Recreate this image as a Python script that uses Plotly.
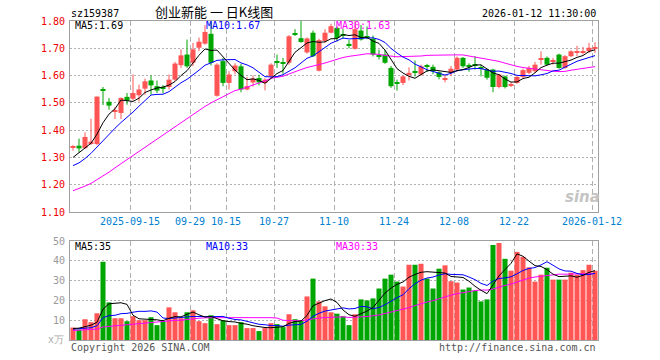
import numpy as np
import pandas as pd
import plotly.graph_objects as go

# ---------------- data ----------------
open_ = [1.335, 1.343, 1.334, 1.352, 1.349, 1.551, 1.504, 1.470, 1.463, 1.522,
         1.515, 1.528, 1.552, 1.582, 1.561, 1.556, 1.558, 1.585, 1.638, 1.677,
         1.647, 1.702, 1.717, 1.753, 1.526, 1.653, 1.573, 1.616, 1.634, 1.549,
         1.575, 1.591, 1.573, 1.597, 1.651, 1.649, 1.647, 1.755, 1.737, 1.685,
         1.757, 1.618, 1.727, 1.757, 1.775, 1.750, 1.716, 1.698, 1.765, 1.744,
         1.735, 1.675, 1.677, 1.628, 1.575, 1.573, 1.604, 1.617, 1.604, 1.636,
         1.632, 1.612, 1.585, 1.610, 1.622, 1.665, 1.639, 1.640, 1.630, 1.622,
         1.622, 1.558, 1.597, 1.564, 1.573, 1.595, 1.610, 1.616, 1.658, 1.665,
         1.651, 1.677, 1.628, 1.671, 1.685, 1.686, 1.689, 1.700]
high = [1.345, 1.369, 1.392, 1.442, 1.523, 1.558, 1.518, 1.485, 1.520, 1.536,
        1.604, 1.567, 1.589, 1.601, 1.582, 1.565, 1.604, 1.650, 1.696, 1.732,
        1.720, 1.739, 1.785, 1.795, 1.645, 1.665, 1.616, 1.645, 1.643, 1.595,
        1.600, 1.603, 1.590, 1.645, 1.677, 1.665, 1.748, 1.770, 1.800, 1.740,
        1.765, 1.735, 1.770, 1.790, 1.780, 1.770, 1.730, 1.800, 1.785, 1.780,
        1.747, 1.695, 1.695, 1.635, 1.585, 1.600, 1.630, 1.655, 1.640, 1.643,
        1.640, 1.615, 1.604, 1.635, 1.670, 1.668, 1.645, 1.671, 1.640, 1.625,
        1.625, 1.606, 1.600, 1.576, 1.600, 1.625, 1.635, 1.650, 1.689, 1.670,
        1.665, 1.680, 1.675, 1.693, 1.709, 1.705, 1.720, 1.722]
low = [1.325, 1.318, 1.331, 1.346, 1.345, 1.492, 1.475, 1.441, 1.441, 1.493,
       1.509, 1.505, 1.530, 1.530, 1.536, 1.535, 1.549, 1.580, 1.628, 1.628,
       1.635, 1.689, 1.713, 1.637, 1.523, 1.561, 1.549, 1.605, 1.539, 1.546,
       1.560, 1.564, 1.546, 1.590, 1.628, 1.607, 1.640, 1.745, 1.720, 1.680,
       1.668, 1.615, 1.720, 1.755, 1.725, 1.735, 1.700, 1.695, 1.728, 1.733,
       1.670, 1.659, 1.643, 1.555, 1.545, 1.565, 1.582, 1.597, 1.600, 1.613,
       1.605, 1.586, 1.575, 1.598, 1.615, 1.628, 1.614, 1.622, 1.597, 1.585,
       1.539, 1.553, 1.553, 1.558, 1.570, 1.590, 1.605, 1.610, 1.640, 1.637,
       1.640, 1.625, 1.625, 1.668, 1.671, 1.678, 1.683, 1.683]
close = [1.338, 1.333, 1.375, 1.358, 1.523, 1.547, 1.490, 1.474, 1.518, 1.508,
         1.536, 1.549, 1.579, 1.564, 1.545, 1.552, 1.585, 1.644, 1.674, 1.634,
         1.696, 1.724, 1.760, 1.647, 1.640, 1.573, 1.604, 1.637, 1.549, 1.561,
         1.589, 1.575, 1.585, 1.640, 1.648, 1.645, 1.744, 1.750, 1.723, 1.736,
         1.671, 1.730, 1.757, 1.781, 1.738, 1.746, 1.712, 1.770, 1.732, 1.740,
         1.677, 1.671, 1.647, 1.561, 1.571, 1.597, 1.610, 1.612, 1.634, 1.632,
         1.616, 1.595, 1.590, 1.625, 1.665, 1.634, 1.635, 1.636, 1.626, 1.592,
         1.558, 1.604, 1.558, 1.569, 1.595, 1.620, 1.628, 1.640, 1.663, 1.640,
         1.656, 1.628, 1.671, 1.689, 1.689, 1.690, 1.702, 1.703]
volume = [6.3, 5.3, 10.5, 9.0, 13.5, 39.5, 19.0, 11.0, 11.0, 9.5,
          12.0, 10.0, 10.0, 11.5, 7.5, 9.5, 16.5, 14.0, 11.0, 14.0,
          15.0, 9.5, 8.5, 12.5, 8.0, 10.0, 7.5, 7.5, 9.0, 6.0,
          6.0, 4.5, 6.0, 8.5, 8.0, 6.5, 13.0, 10.5, 10.0, 22.0,
          31.0, 19.5, 17.0, 14.0, 13.3, 12.0, 7.5, 13.0, 20.5, 20.0,
          21.0, 26.0, 31.0, 33.0, 29.5, 27.0, 38.0, 38.0, 38.5, 31.0,
          26.0, 36.0, 37.7, 29.7, 29.0, 25.5, 26.5, 25.0, 19.5, 20.5,
          48.0, 49.0, 41.0, 35.0, 44.5, 42.0, 36.7, 29.5, 33.0, 36.5,
          30.5, 30.5, 30.5, 34.0, 33.0, 35.3, 38.0, 35.0]

# moving-average values before enough history exists inside the window
ma5_head = [1.300, 1.318, 1.335, 1.352]
ma10_head = [1.270, 1.280, 1.296, 1.315, 1.338, 1.362, 1.385, 1.407, 1.428]
ma30_head = [1.178, 1.186, 1.195, 1.205, 1.218, 1.232, 1.246, 1.262, 1.277, 1.292,
             1.308, 1.324, 1.340, 1.355, 1.370, 1.385, 1.399, 1.413, 1.428, 1.443,
             1.457, 1.472, 1.487, 1.500, 1.512, 1.523, 1.535, 1.545, 1.550]
vma5_head = [5.8, 6.0, 6.7, 7.5]
vma10_head = [5.5, 5.7, 5.8, 6.2, 7.2, 11.3, 12.3, 12.5, 13.3]
vma30_head = [4.8, 4.9, 5.0, 5.1, 5.5, 6.6, 6.9, 7.2, 7.5, 7.8,
              8.0, 8.3, 8.6, 9.0, 9.3, 9.5, 9.8, 9.9, 10.0, 10.4,
              10.8, 11.0, 11.2, 11.3, 11.3, 11.3, 11.3, 11.3, 11.3]

holidays = ["2025-10-01", "2025-10-02", "2025-10-03", "2025-10-06", "2025-10-07",
            "2025-10-08", "2026-01-01", "2026-01-02"]
tick_dates = ["2025-09-15", "2025-09-29", "2025-10-15", "2025-10-27", "2025-11-10",
              "2025-11-24", "2025-12-08", "2025-12-22", "2026-01-12"]
tick_labels = ["2025-09-15", "09-29", "10-15", "10-27", "11-10",
               "11-24", "12-08", "12-22", "2026-01-12"]
price_ticks = [1.10, 1.20, 1.30, 1.40, 1.50, 1.60, 1.70, 1.80]
vol_ticks = [10, 20, 30, 40, 50]

# ---------------- derived ----------------
dates = [d.strftime("%Y-%m-%d") for d in pd.bdate_range("2025-09-01", "2026-01-12")
         if d.strftime("%Y-%m-%d") not in holidays]
n = len(dates)
idx = np.arange(n)
o = np.array(open_); c = np.array(close); h = np.array(high); l = np.array(low)
v = np.array(volume)


def ma(series, w, head):
    m = pd.Series(series).rolling(w).mean().values
    m[:len(head)] = head
    return m


ma5 = ma(c, 5, ma5_head); ma10 = ma(c, 10, ma10_head); ma30 = ma(c, 30, ma30_head)
vma5 = ma(v, 5, vma5_head); vma10 = ma(v, 10, vma10_head); vma30 = ma(v, 30, vma30_head)

RED = "#FF5555"
GREEN = "#00A600"
up = c >= o
bar_colors = [RED if u else GREEN for u in up]
body_base = np.minimum(o, c)
body_h = np.maximum(np.abs(c - o), 0.0038)
tickpos = [dates.index(d) - 0.5 for d in tick_dates]

fig = go.Figure()
# wicks
for flag, col in ((True, RED), (False, GREEN)):
    xs, ys = [], []
    for i in idx[up == flag]:
        xs += [i, i, None]
        ys += [l[i], h[i], None]
    fig.add_trace(go.Scatter(x=xs, y=ys, mode="lines", line=dict(color=col, width=1),
                             xaxis="x", yaxis="y", hoverinfo="skip"))
# bodies
fig.add_trace(go.Bar(x=idx, y=body_h, base=body_base, width=0.84,
                     marker=dict(color=bar_colors, line=dict(width=0)),
                     xaxis="x", yaxis="y", hoverinfo="skip"))
# price MAs
for m, col in ((ma30, "#FF00FF"), (ma10, "#0000FF"), (ma5, "#000000")):
    fig.add_trace(go.Scatter(x=idx, y=m, mode="lines", line=dict(color=col, width=1),
                             xaxis="x", yaxis="y", hoverinfo="skip"))
# volume
fig.add_trace(go.Bar(x=idx, y=v, width=0.84,
                     marker=dict(color=bar_colors, line=dict(width=0)),
                     xaxis="x2", yaxis="y2", hoverinfo="skip"))
for m, col in ((vma30, "#FF00FF"), (vma10, "#0000FF"), (vma5, "#000000")):
    fig.add_trace(go.Scatter(x=idx, y=m, mode="lines", line=dict(color=col, width=1),
                             xaxis="x2", yaxis="y2", hoverinfo="skip"))

L, R, T, B, W, H = 70, 62, 21, 20, 660, 360
PW, PH = W - L - R, H - T - B


def px(x):
    return (x - L) / PW


def py(y):
    return (H - B - y) / PH


MONO = "DejaVu Sans Mono"
CJK = "Noto Sans CJK SC"
ann = []


def text(t, x, y, anchor="left", color="#000", size=10, family=MONO, **kw):
    ann.append(dict(text=t, x=px(x), y=py(y), xref="paper", yref="paper",
                    xanchor=anchor, yanchor="middle", showarrow=False,
                    font=dict(family=family, size=size, color=color, **kw)))


text("sz159387", 69, 13)
text("创业新能 一 日K线图", 214, 12, anchor="center", size=13, family=CJK)
text("2026-01-12 11:30:00", 598, 13, anchor="right")
text("MA5:%.2f" % ma5[-1], 73, 26)
text("MA10:%.2f" % ma10[-1], 204, 26, color="#0000FF")
text("MA30:%.2f" % ma30[-1], 334, 26, color="#FF00FF")
text("MA5:%d" % int(vma5[-1]), 73, 246)
text("MA10:%d" % int(vma10[-1]), 204, 246, color="#0000FF")
text("MA30:%d" % int(vma30[-1]), 334, 246, color="#FF00FF")
text("Copyright 2026 SINA.COM", 69, 347, color="#555555")
text("http://finance.sina.com.cn", 598, 347, anchor="right", color="#555555")
text("x万", 66, 339, anchor="right", color="#aaaaaa")
text("sina", 582, 197, anchor="center", color="#c4c4c4", size=15,
     family="DejaVu Sans", style="italic", weight="bold")

GRID = "#b0b0b0"
LINE = "#a0a0a0"
xcommon = dict(range=[-0.5, n - 0.5], tickmode="array", tickvals=tickpos, ticktext=tick_labels,
               showgrid=True, gridcolor=GRID, griddash="5px,3px", gridwidth=1,
               showline=True, mirror=True, linecolor=LINE, linewidth=1,
               zeroline=False, ticks="", fixedrange=True)
fig.update_layout(
    width=W, height=H, margin=dict(l=L, r=R, t=T, b=B),
    paper_bgcolor="white", plot_bgcolor="white", showlegend=False, hovermode=False,
    barmode="overlay",
    xaxis=dict(domain=[0, 1], anchor="y", **xcommon,
               tickfont=dict(family=MONO, size=10, color="#0080D0")),
    xaxis2=dict(domain=[0, 1], anchor="y2", matches="x", showticklabels=False, **xcommon),
    yaxis=dict(domain=[1 - (212 - T) / PH, 1], range=[1.10, 1.80], tickmode="array",
               tickvals=price_ticks, ticktext=["%.2f" % t for t in price_ticks],
               showgrid=True, gridcolor=GRID, griddash="2px,2px", showline=True, mirror=True,
               linecolor=LINE, zeroline=False, ticks="", ticklabelstandoff=2,
               tickfont=dict(family=MONO, size=10, color="#EE0000"), fixedrange=True),
    yaxis2=dict(domain=[0, 1 - (241 - T) / PH], range=[0, 50], tickmode="array",
                tickvals=vol_ticks, ticktext=[str(t) for t in vol_ticks],
                showgrid=True, gridcolor=GRID, griddash="2px,2px", showline=True, mirror=True,
                linecolor=LINE, zeroline=False, ticks="", ticklabelstandoff=2,
                tickfont=dict(family=MONO, size=10, color="#999999"), fixedrange=True),
    annotations=ann,
)
fig.write_html("out.html")
